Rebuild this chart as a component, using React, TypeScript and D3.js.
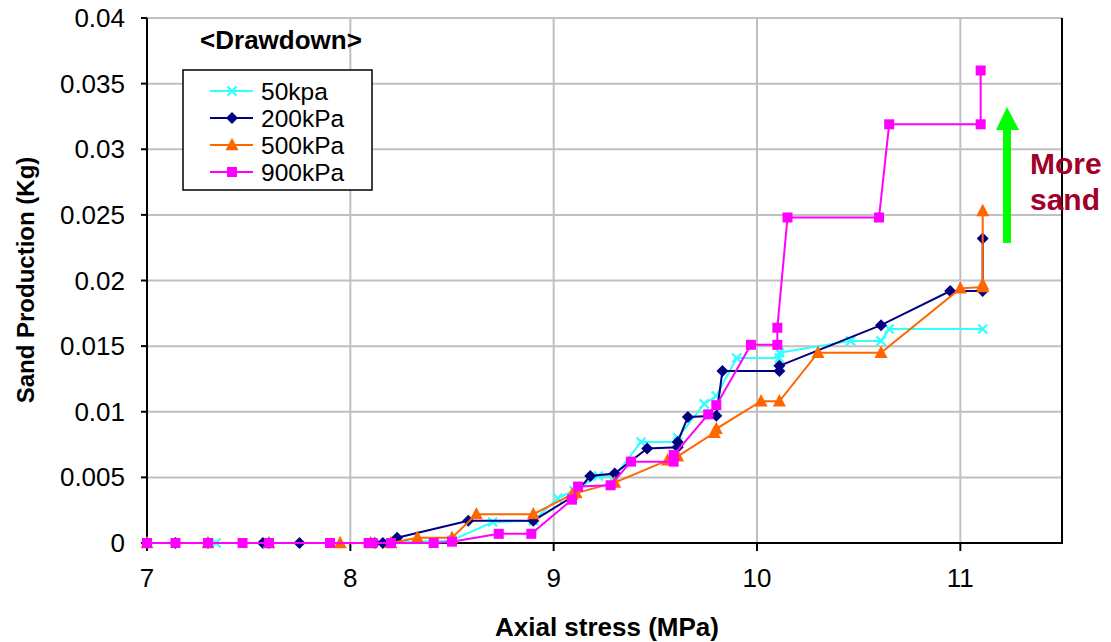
import React from "react";
import * as d3 from "d3";

type P = [number, number];

const series50: P[] = [
  [7.0, 0], [7.34, 0], [7.6, 0], [8.1, 0], [8.5, 0.0002], [8.7, 0.0016], [8.9, 0.0017],
  [9.02, 0.0034], [9.1, 0.004], [9.22, 0.0051], [9.3, 0.0051], [9.43, 0.0077], [9.61, 0.0077],
  [9.61, 0.008], [9.74, 0.0106], [9.8, 0.0112], [9.9, 0.0141], [10.11, 0.0141], [10.11, 0.0145],
  [10.46, 0.0154], [10.61, 0.0154], [10.65, 0.0163], [11.11, 0.0163],
];
const series200: P[] = [
  [7.14, 0], [7.3, 0], [7.57, 0], [7.6, 0], [7.75, 0], [8.12, 0], [8.16, 0], [8.23, 0.0004],
  [8.58, 0.0017], [8.9, 0.0017], [9.09, 0.0035], [9.18, 0.0051], [9.3, 0.0053], [9.46, 0.0072],
  [9.61, 0.0073], [9.61, 0.0077], [9.66, 0.0096], [9.8, 0.0097], [9.83, 0.0131], [10.11, 0.0131],
  [10.11, 0.0135], [10.61, 0.0166], [10.95, 0.0192], [11.11, 0.0192], [11.11, 0.0232],
];
const series500: P[] = [
  [7.0, 0], [7.3, 0], [7.6, 0], [7.95, 0], [8.1, 0], [8.2, 0], [8.33, 0.0004], [8.5, 0.0004],
  [8.62, 0.0022], [8.9, 0.0022], [9.09, 0.0037], [9.11, 0.0038], [9.3, 0.0046], [9.56, 0.0063],
  [9.61, 0.0066], [9.79, 0.0084], [9.8, 0.0087], [10.02, 0.0108], [10.11, 0.0108], [10.3, 0.0145],
  [10.61, 0.0145], [11.0, 0.0194], [11.11, 0.0195], [11.11, 0.0197], [11.11, 0.0253],
];
const series900: P[] = [
  [7.0, 0], [7.14, 0], [7.3, 0], [7.47, 0], [7.6, 0], [7.9, 0], [8.09, 0], [8.11, 0], [8.2, 0],
  [8.41, 0], [8.5, 0.0001], [8.73, 0.0007], [8.89, 0.0007], [9.09, 0.0033], [9.12, 0.0043],
  [9.28, 0.0044], [9.38, 0.0062], [9.59, 0.0062], [9.59, 0.0067], [9.76, 0.0098], [9.8, 0.0105],
  [9.97, 0.0151], [10.1, 0.0151], [10.1, 0.0164], [10.15, 0.0248], [10.6, 0.0248], [10.65, 0.0319],
  [11.1, 0.0319], [11.1, 0.036],
];

const seriesNames = ["50kpa", "200kPa", "500kPa", "900kPa"];
const seriesData = [series50, series200, series500, series900];
const seriesColors = ["#33FFFF", "#000080", "#FF6600", "#FF00FF"];
const seriesMarkers = ["x", "diamond", "triangle", "square"];

const xTicks = [7, 8, 9, 10, 11];
const yTicks = [0, 0.005, 0.01, 0.015, 0.02, 0.025, 0.03, 0.035, 0.04];
const yTickLabels = ["0", "0.005", "0.01", "0.015", "0.02", "0.025", "0.03", "0.035", "0.04"];

const W = 1111;
const H = 642;
const L = 147, R = 1062, T = 18, B = 543;
const FONT = "'Liberation Sans', Arial, sans-serif";

function Marker({ type, x, y, color }: { type: string; x: number; y: number; color: string }) {
  if (type === "x") {
    const s = 4.5;
    return (
      <g stroke={color} strokeWidth={2.2}>
        <line x1={x - s} y1={y - s} x2={x + s} y2={y + s} />
        <line x1={x - s} y1={y + s} x2={x + s} y2={y - s} />
      </g>
    );
  }
  if (type === "diamond") {
    const s = 6;
    return <path d={`M${x},${y - s}L${x + s},${y}L${x},${y + s}L${x - s},${y}Z`} fill={color} />;
  }
  if (type === "triangle") {
    const s = 6.5;
    return <path d={`M${x},${y - s * 1.1}L${x + s},${y + s * 0.8}L${x - s},${y + s * 0.8}Z`} fill={color} />;
  }
  const s = 5;
  return <rect x={x - s} y={y - s} width={2 * s} height={2 * s} fill={color} />;
}

export default function App() {
  const x = d3.scaleLinear().domain([7, 11.5]).range([L, R]);
  const y = d3.scaleLinear().domain([0, 0.04]).range([B, T]);
  const line = d3.line<P>().x((d) => x(d[0])).y((d) => y(d[1]));

  return (
    <svg width={W} height={H} style={{ position: "absolute", left: 0, top: 0, background: "#fff" }} fontFamily={FONT}>
      <rect x={0} y={0} width={W} height={H} fill="#fff" />
      {yTicks.map((t) => (
        <line key={"gy" + t} x1={L} x2={R} y1={y(t)} y2={y(t)} stroke="#c0c0c0" strokeWidth={2} />
      ))}
      {xTicks.map((t) => (
        <line key={"gx" + t} x1={x(t)} x2={x(t)} y1={T} y2={B} stroke="#c0c0c0" strokeWidth={2} />
      ))}
      <line x1={R} x2={R} y1={T} y2={B} stroke="#000" strokeWidth={2} />
      <line x1={L} x2={L} y1={T} y2={B + 1} stroke="#000" strokeWidth={2} />
      <line x1={L - 1} x2={R + 1} y1={B} y2={B} stroke="#000" strokeWidth={2} />
      {yTicks.map((t) => (
        <line key={"ty" + t} x1={L - 6} x2={L} y1={y(t)} y2={y(t)} stroke="#000" strokeWidth={2} />
      ))}
      {xTicks.map((t) => (
        <line key={"tx" + t} x1={x(t)} x2={x(t)} y1={B} y2={B + 8} stroke="#000" strokeWidth={2} />
      ))}
      {yTicks.map((t, i) => (
        <text key={"ly" + t} x={125} y={y(t) + 9} textAnchor="end" fontSize={26} fill="#000">
          {yTickLabels[i]}
        </text>
      ))}
      {xTicks.map((t) => (
        <text key={"lx" + t} x={x(t)} y={587} textAnchor="middle" fontSize={26} fill="#000">
          {t}
        </text>
      ))}
      <text x={607} y={636} textAnchor="middle" fontSize={26} fontWeight="bold">
        Axial stress (MPa)
      </text>
      <text transform={`translate(34,280) rotate(-90)`} textAnchor="middle" fontSize={24} fontWeight="bold">
        Sand Production (Kg)
      </text>
      {seriesData.map((d, i) => (
        <g key={seriesNames[i]}>
          <path d={line(d) || ""} fill="none" stroke={seriesColors[i]} strokeWidth={2} />
          {d.map((p, j) => (
            <Marker key={j} type={seriesMarkers[i]} x={x(p[0])} y={y(p[1])} color={seriesColors[i]} />
          ))}
        </g>
      ))}
      <text x={281} y={49} textAnchor="middle" fontSize={26} fontWeight="bold">
        {"<Drawdown>"}
      </text>
      <rect x={183} y={70} width={189} height={120} fill="#fff" stroke="#000" strokeWidth={1.5} />
      {seriesNames.map((n, i) => {
        const ly = 91 + i * 27;
        return (
          <g key={"lg" + n}>
            <line x1={210} x2={253} y1={ly} y2={ly} stroke={seriesColors[i]} strokeWidth={2} />
            <Marker type={seriesMarkers[i]} x={232} y={ly} color={seriesColors[i]} />
            <text x={261} y={ly + 8.5} fontSize={24.5} fill="#000">
              {n}
            </text>
          </g>
        );
      })}
      <rect x={1003} y={128} width={8} height={115} fill="#00FF00" />
      <path d="M996,130L1007,107L1019,130Z" fill="#00FF00" />
      <text x={1030} y={174} fontSize={30} fontWeight="bold" fill="#A0002A">
        More
      </text>
      <text x={1030} y={210} fontSize={30} fontWeight="bold" fill="#A0002A">
        sand
      </text>
    </svg>
  );
}
